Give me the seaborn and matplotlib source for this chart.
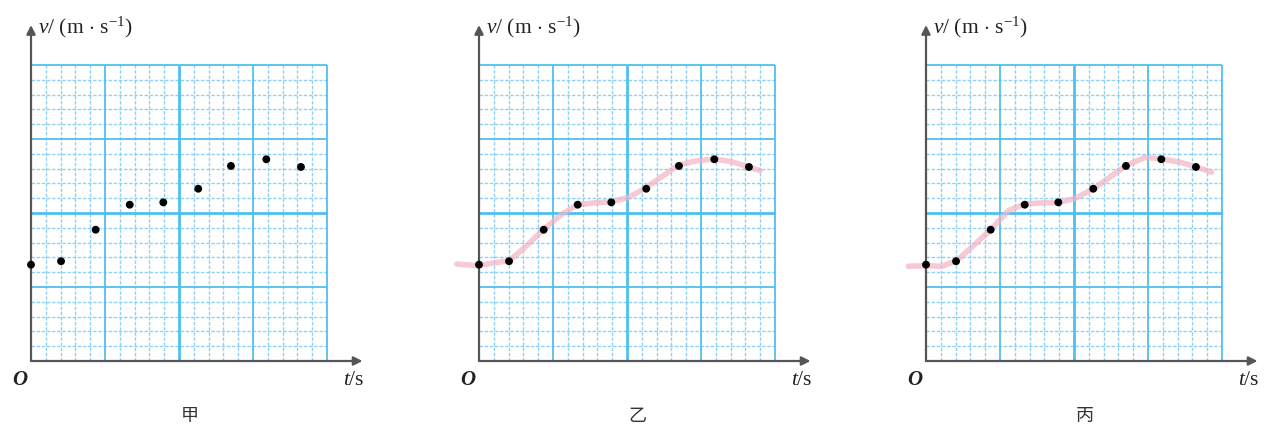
import numpy as np
import seaborn as sns
import matplotlib.pyplot as plt

# measured points (grid units: 20 small squares each way)
t_pts = [0, 2.03, 4.37, 6.67, 8.94, 11.3, 13.51, 15.9, 18.24]
v_pts = [6.51, 6.74, 8.87, 10.56, 10.72, 11.64, 13.18, 13.63, 13.11]

# hand-drawn curve for 乙
curve_b_t = [-1.5, -0.05, 0.97, 2.05, 3.22, 4.35, 5.47, 6.6, 7.72, 8.92,
             10.1, 11.22, 12.45, 13.47, 14.71, 15.9, 17.07, 18.2, 19.0]
curve_b_v = [6.55, 6.44, 6.62, 6.78, 7.79, 8.87, 9.82, 10.54, 10.68, 10.76,
             11.05, 11.67, 12.52, 13.24, 13.53, 13.65, 13.47, 13.11, 12.86]

# smoother curve for 丙
curve_c_t = [-1.2, -0.02, 1.06, 2.07, 3.2, 4.37, 5.56, 6.69, 7.82, 8.99,
             10.1, 11.37, 12.55, 13.51, 14.8, 15.93, 17.16, 18.29, 19.3]
curve_c_v = [6.4, 6.44, 6.4, 6.78, 7.79, 8.87, 10.16, 10.61, 10.68, 10.72,
             11.0, 11.67, 12.52, 13.2, 13.76, 13.65, 13.43, 13.11, 12.75]

panel_labels = ['甲', '乙', '丙']
curves = [None, (curve_b_t, curve_b_v), (curve_c_t, curve_c_v)]

sns.set_style('white')
plt.rcParams['font.family'] = ['Liberation Serif', 'Noto Sans CJK SC']
plt.rcParams['mathtext.fontset'] = 'custom'
plt.rcParams['mathtext.rm'] = 'Liberation Serif'
plt.rcParams['mathtext.it'] = 'Liberation Serif:italic'

W, H = 1268, 431
fig = plt.figure(figsize=(W / 100, H / 100), dpi=100)

blue = '#4ec0ef'
blue_light = '#8fd2f3'
axis_col = '#555555'

for i, left_px in enumerate([31, 479, 926]):
    ax = fig.add_axes([left_px / W, 69 / H, 296 / W, 296 / H])
    ax.set_xlim(0, 20)
    ax.set_ylim(0, 20)
    ax.axis('off')

    # graph paper
    for k in range(1, 21):
        if k % 5:
            kw = dict(color=blue_light, lw=1.0, linestyles=(0, (2.5, 1.2)), zorder=1)
        elif k == 10:
            kw = dict(color=blue, lw=2.0, zorder=2)
        else:
            kw = dict(color=blue, lw=1.3, zorder=2)
        ax.vlines(k, 0, 20, clip_on=False, **kw)
        ax.hlines(k, 0, 20, clip_on=False, **kw)

    # axes with arrows
    arrow = dict(arrowstyle='-|>', color=axis_col, lw=1.6, mutation_scale=13,
                 shrinkA=0, shrinkB=0)
    ax.annotate('', xy=(22.4, 0), xytext=(0, 0), arrowprops=arrow,
                annotation_clip=False, zorder=4)
    ax.annotate('', xy=(0, 22.7), xytext=(0, 0), arrowprops=arrow,
                annotation_clip=False, zorder=4)

    if curves[i] is not None:
        ct, cv = curves[i]
        sns.lineplot(x=ct, y=cv, sort=False, estimator=None, ax=ax,
                     color='#f4b3c4', alpha=0.7, lw=4,
                     solid_capstyle='round', solid_joinstyle='round',
                     clip_on=False, zorder=3)

    sns.scatterplot(x=t_pts, y=v_pts, ax=ax, color='black', s=32,
                    edgecolor='none', clip_on=False, zorder=5)

    ax.text(0.45, 22.6, r'$v$/ (m $\cdot$ s$^{-1}$)', fontsize=15.5,
            ha='left', va='center', color='#222222')
    ax.text(-0.75, -1.25, 'O', fontsize=15, style='italic', fontweight='bold',
            ha='center', va='center', color='#222222')
    ax.text(21.8, -1.25, r'$t$/s', fontsize=15.5, ha='center', va='center',
            color='#222222')
    ax.text(10.7, -3.65, panel_labels[i], fontsize=13, ha='center', va='center',
            family=['Noto Sans CJK SC'], color='#333333')

fig.savefig('out.png', dpi=100)
